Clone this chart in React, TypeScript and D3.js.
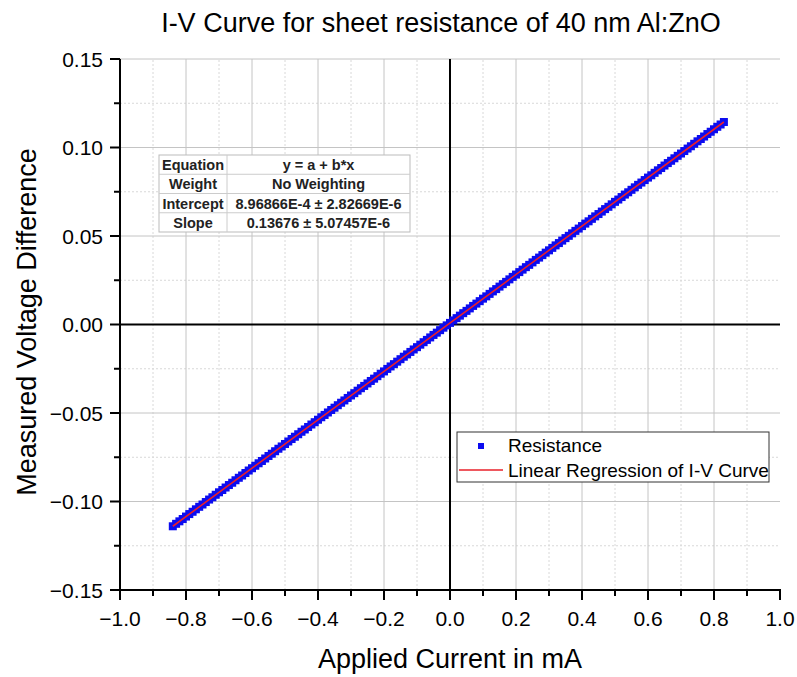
import React from "react";
import * as d3 from "d3";

// Applied current sweep (mA)
const currents: number[] = [
  -0.84, -0.83, -0.82, -0.81, -0.80, -0.79, -0.78, -0.77, -0.76, -0.75,
  -0.74, -0.73, -0.72, -0.71, -0.70, -0.69, -0.68, -0.67, -0.66, -0.65,
  -0.64, -0.63, -0.62, -0.61, -0.60, -0.59, -0.58, -0.57, -0.56, -0.55,
  -0.54, -0.53, -0.52, -0.51, -0.50, -0.49, -0.48, -0.47, -0.46, -0.45,
  -0.44, -0.43, -0.42, -0.41, -0.40, -0.39, -0.38, -0.37, -0.36, -0.35,
  -0.34, -0.33, -0.32, -0.31, -0.30, -0.29, -0.28, -0.27, -0.26, -0.25,
  -0.24, -0.23, -0.22, -0.21, -0.20, -0.19, -0.18, -0.17, -0.16, -0.15,
  -0.14, -0.13, -0.12, -0.11, -0.10, -0.09, -0.08, -0.07, -0.06, -0.05,
  -0.04, -0.03, -0.02, -0.01, 0.00, 0.01, 0.02, 0.03, 0.04, 0.05,
  0.06, 0.07, 0.08, 0.09, 0.10, 0.11, 0.12, 0.13, 0.14, 0.15,
  0.16, 0.17, 0.18, 0.19, 0.20, 0.21, 0.22, 0.23, 0.24, 0.25,
  0.26, 0.27, 0.28, 0.29, 0.30, 0.31, 0.32, 0.33, 0.34, 0.35,
  0.36, 0.37, 0.38, 0.39, 0.40, 0.41, 0.42, 0.43, 0.44, 0.45,
  0.46, 0.47, 0.48, 0.49, 0.50, 0.51, 0.52, 0.53, 0.54, 0.55,
  0.56, 0.57, 0.58, 0.59, 0.60, 0.61, 0.62, 0.63, 0.64, 0.65,
  0.66, 0.67, 0.68, 0.69, 0.70, 0.71, 0.72, 0.73, 0.74, 0.75,
  0.76, 0.77, 0.78, 0.79, 0.80, 0.81, 0.82, 0.83,
];

// Measured voltage difference (V) for each current step
const voltages: number[] = [
  -0.1140, -0.1126, -0.1112, -0.1099, -0.1085, -0.1071, -0.1058, -0.1044, -0.1030, -0.1017,
  -0.1003, -0.0989, -0.0976, -0.0962, -0.0948, -0.0935, -0.0921, -0.0907, -0.0894, -0.0880,
  -0.0866, -0.0853, -0.0839, -0.0825, -0.0812, -0.0798, -0.0784, -0.0771, -0.0757, -0.0743,
  -0.0730, -0.0716, -0.0702, -0.0689, -0.0675, -0.0661, -0.0647, -0.0634, -0.0620, -0.0606,
  -0.0593, -0.0579, -0.0565, -0.0552, -0.0538, -0.0524, -0.0511, -0.0497, -0.0483, -0.0470,
  -0.0456, -0.0442, -0.0429, -0.0415, -0.0401, -0.0388, -0.0374, -0.0360, -0.0347, -0.0333,
  -0.0319, -0.0306, -0.0292, -0.0278, -0.0265, -0.0251, -0.0237, -0.0224, -0.0210, -0.0196,
  -0.0182, -0.0169, -0.0155, -0.0141, -0.0128, -0.0114, -0.0100, -0.0087, -0.0073, -0.0059,
  -0.0046, -0.0032, -0.0018, -0.0005, 0.0009, 0.0023, 0.0036, 0.0050, 0.0064, 0.0077,
  0.0091, 0.0105, 0.0118, 0.0132, 0.0146, 0.0159, 0.0173, 0.0187, 0.0200, 0.0214,
  0.0228, 0.0241, 0.0255, 0.0269, 0.0282, 0.0296, 0.0310, 0.0324, 0.0337, 0.0351,
  0.0365, 0.0378, 0.0392, 0.0406, 0.0419, 0.0433, 0.0447, 0.0460, 0.0474, 0.0488,
  0.0501, 0.0515, 0.0529, 0.0542, 0.0556, 0.0570, 0.0583, 0.0597, 0.0611, 0.0624,
  0.0638, 0.0652, 0.0665, 0.0679, 0.0693, 0.0706, 0.0720, 0.0734, 0.0747, 0.0761,
  0.0775, 0.0789, 0.0802, 0.0816, 0.0830, 0.0843, 0.0857, 0.0871, 0.0884, 0.0898,
  0.0912, 0.0925, 0.0939, 0.0953, 0.0966, 0.0980, 0.0994, 0.1007, 0.1021, 0.1035,
  0.1048, 0.1062, 0.1076, 0.1089, 0.1103, 0.1117, 0.1130, 0.1144,
];

// Linear fit results
const intercept = 8.96866e-4;
const slope = 0.13676;
const fitRange: number[] = [-0.84, 0.83];

const xTicks: number[] = [-1.0, -0.8, -0.6, -0.4, -0.2, 0.0, 0.2, 0.4, 0.6, 0.8, 1.0];
const xMinorTicks: number[] = [-0.9, -0.7, -0.5, -0.3, -0.1, 0.1, 0.3, 0.5, 0.7, 0.9];
const yTicks: number[] = [-0.15, -0.1, -0.05, 0.0, 0.05, 0.1, 0.15];
const yMinorTicks: number[] = [-0.125, -0.075, -0.025, 0.025, 0.075, 0.125];

const tableRows: string[][] = [
  ["Equation", "y = a + b*x"],
  ["Weight", "No Weighting"],
  ["Intercept", "8.96866E-4 ± 2.82669E-6"],
  ["Slope", "0.13676 ± 5.07457E-6"],
];

const legendLabels: string[] = ["Resistance", "Linear Regression of I-V Curve"];

const W = 797;
const H = 677;
const M = { left: 120, right: 17, top: 59, bottom: 87 };
const FONT = "'Liberation Sans', Arial, sans-serif";
const BLUE = "#0c0cf0";
const RED = "#e8202a";

export default function App() {
  const x = d3.scaleLinear().domain([-1, 1]).range([M.left, W - M.right]);
  const y = d3.scaleLinear().domain([-0.15, 0.15]).range([H - M.bottom, M.top]);
  const [x0, x1] = x.range();
  const [y0, y1] = y.range();
  const fmtX = (v: number) => d3.format(".1f")(v).replace("-", "\u2212");
  const fmtY = (v: number) => d3.format(".2f")(v).replace("-", "\u2212");

  const fitLine = d3
    .line<number>()
    .x((d) => x(d))
    .y((d) => y(intercept + slope * d));

  const sq = 8;

  // table geometry
  const tX = 159, tY = 155, c1 = 68, c2 = 183, rh = 19.25;
  // legend geometry
  const lX = 457, lY = 432, lW = 312, lH = 50;

  return (
    <svg width={W} height={H} style={{ position: "absolute", left: 0, top: 0, background: "#fff" }}>
      <rect width={W} height={H} fill="#fff" />
      {/* minor grid */}
      {xMinorTicks.map((t) => (
        <line key={"xm" + t} x1={x(t)} x2={x(t)} y1={y0} y2={y1} stroke="#d8d8d8" strokeWidth={1} strokeDasharray="2,2" />
      ))}
      {yMinorTicks.map((t) => (
        <line key={"ym" + t} x1={x0} x2={x1} y1={y(t)} y2={y(t)} stroke="#d8d8d8" strokeWidth={1} strokeDasharray="2,2" />
      ))}
      {/* major grid */}
      {xTicks.filter((t) => t > -1 && t < 1 && t !== 0).map((t) => (
        <line key={"xg" + t} x1={x(t)} x2={x(t)} y1={y0} y2={y1} stroke="#c4c4c4" strokeWidth={1} />
      ))}
      {yTicks.filter((t) => t > -0.15 && t !== 0).map((t) => (
        <line key={"yg" + t} x1={x0} x2={x1} y1={y(t)} y2={y(t)} stroke="#c4c4c4" strokeWidth={1} />
      ))}
      {/* zero lines */}
      <line x1={x0} x2={x1} y1={y(0)} y2={y(0)} stroke="#000" strokeWidth={2} />
      <line x1={x(0)} x2={x(0)} y1={y0} y2={y1} stroke="#000" strokeWidth={2} />

      {/* axes */}
      <line x1={x0} x2={x0} y1={y0 + 1} y2={y1} stroke="#000" strokeWidth={2} />
      <line x1={x0 - 1} x2={x1 + 1} y1={y0} y2={y0} stroke="#000" strokeWidth={2} />
      {xTicks.map((t) => (
        <g key={"xt" + t}>
          <line x1={x(t)} x2={x(t)} y1={y0} y2={y0 + 10} stroke="#000" strokeWidth={2} />
          <text x={x(t)} y={y0 + 36} textAnchor="middle" fontFamily={FONT} fontSize={21} fill="#000">
            {fmtX(t)}
          </text>
        </g>
      ))}
      {xMinorTicks.map((t) => (
        <line key={"xmt" + t} x1={x(t)} x2={x(t)} y1={y0} y2={y0 + 6} stroke="#000" strokeWidth={2} />
      ))}
      {yTicks.map((t) => (
        <g key={"yt" + t}>
          <line x1={x0 - 10} x2={x0} y1={y(t)} y2={y(t)} stroke="#000" strokeWidth={2} />
          <text x={x0 - 17} y={y(t) + 7.5} textAnchor="end" fontFamily={FONT} fontSize={21} fill="#000">
            {fmtY(t)}
          </text>
        </g>
      ))}
      {yMinorTicks.map((t) => (
        <line key={"ymt" + t} x1={x0 - 6} x2={x0} y1={y(t)} y2={y(t)} stroke="#000" strokeWidth={2} />
      ))}

      {/* data points */}
      <g fill={BLUE}>
        {currents.map((c, i) => (
          <rect key={"p" + i} x={x(c) - sq / 2} y={y(voltages[i]) - sq / 2} width={sq} height={sq} />
        ))}
      </g>
      {/* fit line */}
      <path d={fitLine(fitRange) || ""} fill="none" stroke={RED} strokeWidth={1.6} />

      {/* fit parameter table */}
      <g fontFamily={FONT} fontSize={14.5} fontWeight="bold" fill="#222">
        <rect x={tX} y={tY} width={c1 + c2} height={rh * 4} fill="#fff" stroke="#bbb" strokeWidth={1} />
        {tableRows.map((r, i) => (
          <g key={"tr" + i}>
            {i > 0 && <line x1={tX} x2={tX + c1 + c2} y1={tY + rh * i} y2={tY + rh * i} stroke="#ccc" />}
            <text x={tX + c1 / 2} y={tY + rh * i + 15} textAnchor="middle">{r[0]}</text>
            <text x={tX + c1 + c2 / 2} y={tY + rh * i + 15} textAnchor="middle">{r[1]}</text>
          </g>
        ))}
        <line x1={tX + c1} x2={tX + c1} y1={tY} y2={tY + rh * 4} stroke="#ccc" />
      </g>

      {/* legend */}
      <g fontFamily={FONT} fontSize={19} fill="#000">
        <rect x={lX} y={lY} width={lW} height={lH} fill="#fff" stroke="#333" strokeWidth={1} />
        <rect x={lX + 21} y={lY + 11} width={6} height={6} fill={BLUE} />
        <text x={lX + 51} y={lY + 20}>{legendLabels[0]}</text>
        <line x1={lX + 2} x2={lX + 46} y1={lY + 38} y2={lY + 38} stroke={RED} strokeWidth={1.6} />
        <text x={lX + 51} y={lY + 45}>{legendLabels[1]}</text>
      </g>

      {/* titles */}
      <text x={441} y={32} textAnchor="middle" fontFamily={FONT} fontSize={27} fill="#000">
        I-V Curve for sheet resistance of 40 nm Al:ZnO
      </text>
      <text x={450} y={668} textAnchor="middle" fontFamily={FONT} fontSize={27} fill="#000">
        Applied Current in mA
      </text>
      <text transform={`translate(36,322) rotate(-90)`} textAnchor="middle" fontFamily={FONT} fontSize={27} fill="#000">
        Measured Voltage Difference
      </text>
    </svg>
  );
}
